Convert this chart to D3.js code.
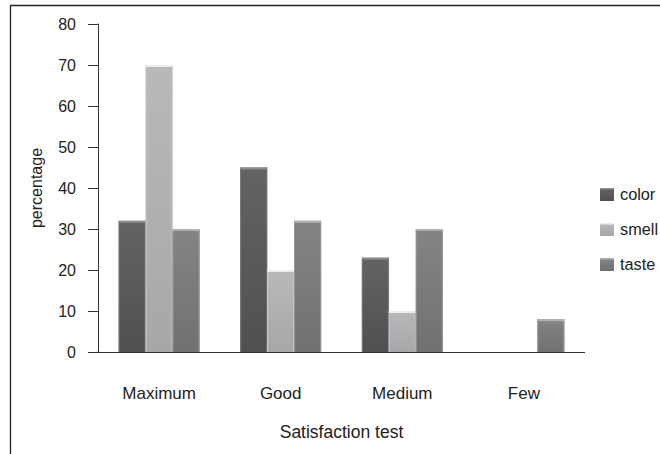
<!DOCTYPE html>
<html>
<head>
<meta charset="utf-8">
<script src="https://cdn.jsdelivr.net/npm/d3@7"></script>
<style>
  html, body { margin: 0; padding: 0; background: #fff; }
  svg { display: block; font-family: "Liberation Sans", Arial, sans-serif; }
</style>
</head>
<body>
<svg id="chart" width="660" height="454"></svg>
<script>
// Satisfaction test results (percentage) per category
const categories = ["Maximum", "Good", "Medium", "Few"];
const seriesNames = ["color", "smell", "taste"];
const colorValues = [32, 45, 23, 0];
const smellValues = [70, 20, 10, 0];
const tasteValues = [30, 32, 30, 8];
const yTicks = [0, 10, 20, 30, 40, 50, 60, 70, 80];

const seriesValues = [colorValues, smellValues, tasteValues];

// grey shades per series: [top, bottom, edge highlight, top cap]
const shades = {
  color: ["#626365", "#505052", "#727375", "#8a8b8d"],
  smell: ["#b8b9bb", "#a6a7a9", "#c8c9cb", "#ececee"],
  taste: ["#838486", "#707173", "#929395", "#b0b1b3"]
};

const svg = d3.select("#chart");
const margin = { left: 98, right: 75, top: 24, bottom: 102 };
const W = 660, H = 454;

const x0 = d3.scaleBand()
  .domain(categories)
  .range([margin.left, W - margin.right])
  .paddingInner(0.335)
  .paddingOuter(0.17);

const x1 = d3.scaleBand()
  .domain(seriesNames)
  .range([0, x0.bandwidth()]);

const y = d3.scaleLinear()
  .domain([0, 80])
  .range([H - margin.bottom, margin.top]);

// outer frame
svg.append("path")
  .attr("d", `M10.5,${H} L10.5,5.5 L${W},5.5`)
  .attr("fill", "none")
  .attr("stroke", "#222")
  .attr("stroke-width", 1.3);

// gradients for bars
const defs = svg.append("defs");
seriesNames.forEach(name => {
  const s = shades[name];
  const gv = defs.append("linearGradient")
    .attr("id", "g-" + name)
    .attr("x1", 0).attr("y1", 0).attr("x2", 0).attr("y2", 1);
  gv.append("stop").attr("offset", "0%").attr("stop-color", s[0]);
  gv.append("stop").attr("offset", "100%").attr("stop-color", s[1]);
});

// y axis
const yAxis = d3.axisLeft(y)
  .tickValues(yTicks)
  .tickSize(10)
  .tickPadding(12);

const gy = svg.append("g")
  .attr("transform", `translate(${margin.left},0)`)
  .call(yAxis);
gy.select(".domain").attr("stroke", "#333").attr("d", `M-0.5,${y(80)}H0.5V${y(0)}H-0.5`);
gy.selectAll(".tick line").attr("stroke", "#333");
gy.selectAll(".tick text")
  .attr("fill", "#222")
  .style("font-size", "16px")
  .style("font-family", "'Liberation Sans', Arial, sans-serif");

// x axis baseline
svg.append("line")
  .attr("x1", margin.left).attr("x2", W - margin.right)
  .attr("y1", y(0) + 0.5).attr("y2", y(0) + 0.5)
  .attr("stroke", "#333").attr("stroke-width", 1.2);

// bars
const groups = svg.append("g").selectAll("g")
  .data(categories)
  .join("g")
  .attr("transform", d => `translate(${x0(d)},0)`);

groups.each(function(cat, ci) {
  const g = d3.select(this);
  seriesNames.forEach((name, si) => {
    const v = seriesValues[si][ci];
    if (!v) return;
    const s = shades[name];
    const bx = x1(name), bw = x1.bandwidth();
    const by = y(v), bh = y(0) - y(v);
    g.append("rect")
      .attr("x", bx).attr("y", by)
      .attr("width", bw).attr("height", bh)
      .attr("fill", `url(#g-${name})`);
    // side edges
    g.append("rect").attr("x", bx).attr("y", by).attr("width", 1).attr("height", bh).attr("fill", s[2]);
    g.append("rect").attr("x", bx + bw - 1).attr("y", by).attr("width", 1).attr("height", bh).attr("fill", s[2]);
    // top cap
    g.append("rect").attr("x", bx).attr("y", by).attr("width", bw).attr("height", 2).attr("fill", s[3]);
  });
});

// category labels
svg.append("g").selectAll("text")
  .data(categories)
  .join("text")
  .attr("x", d => x0(d) + x0.bandwidth() / 2)
  .attr("y", 399)
  .attr("text-anchor", "middle")
  .attr("fill", "#222")
  .style("font-size", "17px")
  .text(d => d);

// axis titles
svg.append("text")
  .attr("x", (margin.left + W - margin.right) / 2)
  .attr("y", 438)
  .attr("text-anchor", "middle")
  .attr("fill", "#222")
  .style("font-size", "17.5px")
  .text("Satisfaction test");

svg.append("text")
  .attr("transform", `translate(42,${(y(0) + y(80)) / 2}) rotate(-90)`)
  .attr("text-anchor", "middle")
  .attr("fill", "#222")
  .style("font-size", "16px")
  .text("percentage");

// legend
const legend = svg.append("g").selectAll("g")
  .data(seriesNames)
  .join("g")
  .attr("transform", (d, i) => `translate(600,${188 + i * 35})`);

legend.append("rect")
  .attr("width", 14).attr("height", 13)
  .attr("fill", d => `url(#g-${d})`);
legend.append("rect")
  .attr("width", 14).attr("height", 1.5)
  .attr("fill", d => shades[d][3]);
legend.append("text")
  .attr("x", 20).attr("y", 12)
  .attr("fill", "#222")
  .style("font-size", "16.3px")
  .text(d => d);
</script>
</body>
</html>
